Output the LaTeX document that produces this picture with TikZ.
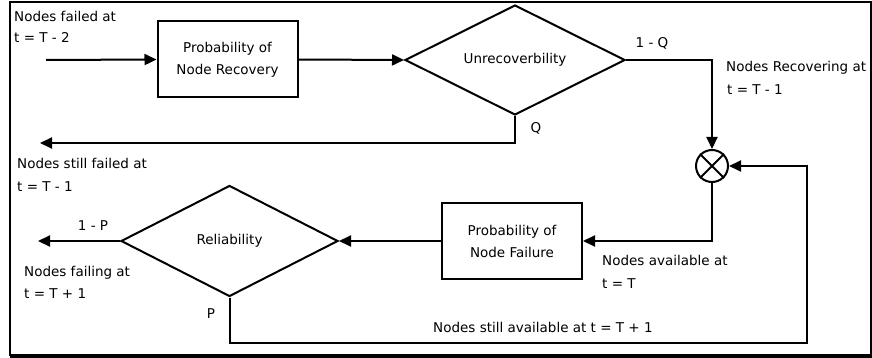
\documentclass[tikz,border=0pt]{standalone}
\usepackage{fontspec}
\setmainfont{DejaVu Sans}
\usetikzlibrary{arrows.meta,shapes.geometric}
\begin{document}
\begin{tikzpicture}[x=1pt,y=-1pt,
  every node/.style={font=\fontsize{13.5}{22}\selectfont, inner sep=0pt},
  conn/.style={line width=2pt},
  arr/.style={conn,-{Triangle[length=12pt,width=11pt]}},
  probbox/.style={draw, line width=2pt, rectangle, align=center, minimum width=140pt, minimum height=76pt},
  decision/.style={draw, line width=2pt, diamond, shape aspect=2},
  lbl/.style={anchor=base west},
  clbl/.style={anchor=base}]
\useasboundingbox (0,0) rectangle (872,358);
% frame
\draw[line width=1.8pt] (10,356) -- (10,2) -- (871,2) -- (871,356);
\draw[line width=4pt] (10,356) -- (872,356);
% nodes
\node[probbox] (box1) at (227.5,59.5) {Probability of\\Node Recovery};
\node[decision, minimum width=220pt, minimum height=110pt] (d1) at (515,60) {Unrecoverbility};
\node[draw, circle, line width=2pt, minimum size=32pt] (c) at (712,166) {};
\draw[line width=2pt] (c.north east) -- (c.south west) (c.north west) -- (c.south east);
\node[probbox] (box2) at (512,241) {Probability of\\Node Failure};
\node[decision, minimum width=217pt, minimum height=111pt] (d2) at (229.5,241) {Reliability};
% free ends
\coordinate (in) at (46,60);
\coordinate (out1) at (40,143);
\coordinate (out2) at (38,241);
\coordinate (loop) at (807,343);
% connectors
\draw[arr] (in) -- (box1.west);
\draw[arr] (box1.east) -- (d1.west);
\draw[arr] (d1.east) -| (c.north);
\draw[arr] (d1.south) |- (out1);
\draw[arr] (c.south) |- (box2.east);
\draw[arr] (box2.west) -- (d2.east);
\draw[arr] (d2.west) -- (out2);
\draw[arr] (d2.south) |- (loop) |- (c.east);
% labels
\node[lbl] (l1a) at (14,22) {Nodes failed at};
\node[lbl] (l1b) at (14,43) {t = T - 2};
\node[clbl] (l1q) at (652,48) {1 - Q};
\node[lbl] (l2a) at (726,72) {Nodes Recovering at};
\node[lbl] (l2b) at (727,95) {t = T - 1};
\node[clbl] (lq) at (536,133) {Q};
\node[lbl] (l3a) at (17,169) {Nodes still failed at};
\node[lbl] (l3b) at (17,192) {t = T - 1};
\node[clbl] (l1p) at (93,230) {1 - P};
\node[lbl] (l4a) at (24,276) {Nodes failing at};
\node[lbl] (l4b) at (24,298) {t = T + 1};
\node[clbl] (lp) at (211,318) {P};
\node[lbl] (l5a) at (602,265) {Nodes available at};
\node[lbl] (l5b) at (602,288) {t = T};
\node[lbl] (l6) at (433,332) {Nodes still available at t = T + 1};
\end{tikzpicture}
\end{document}
